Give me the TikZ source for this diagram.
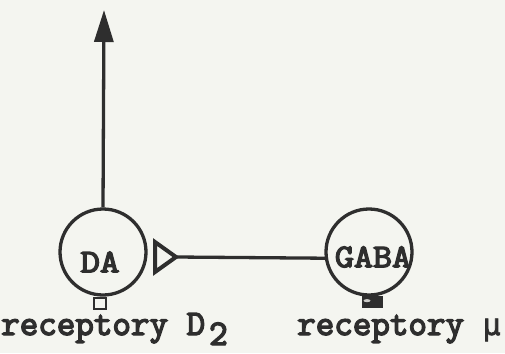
\documentclass[tikz,border=0pt]{standalone}
\usepackage{fontspec}
\newfontfamily\tyb[FakeBold=4]{Latin Modern Mono}
\newfontfamily\mufont[FakeBold=2]{DejaVu Sans Mono}
\usetikzlibrary{arrows.meta}
\definecolor{ink}{HTML}{2E2E2E}
\definecolor{paper}{HTML}{F4F5F0}
\begin{document}
\begin{tikzpicture}[x=1pt,y=-1pt,
  cell/.style={circle, draw=ink, line width=3.3pt, minimum size=86pt, inner sep=0pt},
  lbl/.style={font=\fontsize{36}{36}\selectfont\tyb, text=ink, inner sep=0pt, anchor=base west},
  cname/.style={font=\fontsize{33}{33}\selectfont\tyb, text=ink, inner sep=0pt},
  wire/.style={draw=ink, line width=3.3pt}]
\fill[paper] (0,0) rectangle (505,353);
\useasboundingbox (0,0) rectangle (505,353);
% cells
\node[cell] (da) at (103,252) {};
\node[cell] (gaba) at (369,252) {};
\node[cname] (daL) at (100,262) {\scalebox{1.15}[1]{DA}};
\node[cname] (gabaL) at (373,257) {\scalebox{1.12}[1]{GABA}};
% axon arrow up
\coordinate (top) at (104,10);
\draw[wire, -{Triangle[length=32pt,width=19pt]}] (da.north) -- (top);
% synapse triangle
\coordinate (syn) at (176,257);
\draw[wire, line width=4pt, line join=miter] (155,242) -- (syn) -- (155,272) -- cycle;
\draw[wire] (syn) -- (gaba.188);
% receptors
\node[draw=ink, line width=2.5pt, minimum width=12pt, minimum height=11pt, inner sep=0pt, anchor=north] (r1) at ([xshift=-3pt]da.south) {};
\node[draw=ink, fill=ink, line width=2pt, minimum width=19pt, minimum height=10pt, inner sep=0pt, anchor=north] (r2) at ([xshift=3pt,yshift=1pt]gaba.south) {};
\fill[paper!80!ink] ([xshift=-5pt,yshift=1pt]r2.center) ellipse (3.5pt and 1.5pt);
% labels
\node[lbl] (l1) at (1,335) {receptory D\kern4pt\raisebox{-10pt}{2}};
\node[lbl] (l2) at (297,335) {receptory {\mufont\fontsize{30}{30}\selectfont μ}};
\end{tikzpicture}
\end{document}
